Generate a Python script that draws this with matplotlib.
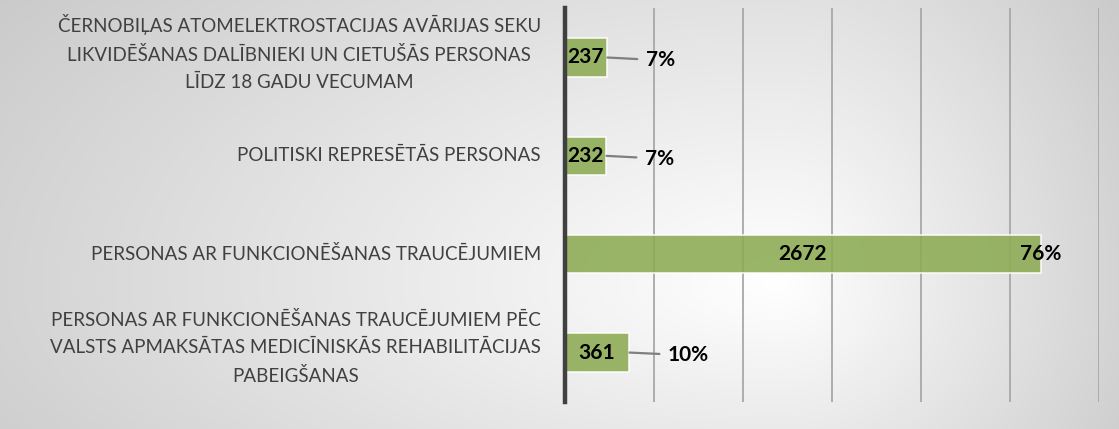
import numpy as np
import matplotlib
matplotlib.use("Agg")
import matplotlib.pyplot as plt

categories = [
    "ČERNOBIĻAS ATOMELEKTROSTACIJAS AVĀRIJAS SEKU\nLIKVIDĒŠANAS DALĪBNIEKI UN CIETUŠĀS PERSONAS\nLĪDZ 18 GADU VECUMAM",
    "POLITISKI REPRESĒTĀS PERSONAS",
    "PERSONAS AR FUNKCIONĒŠANAS TRAUCĒJUMIEM",
    "PERSONAS AR FUNKCIONĒŠANAS TRAUCĒJUMIEM PĒC\nVALSTS APMAKSĀTAS MEDICĪNISKĀS REHABILITĀCIJAS\nPABEIGŠANAS",
]
values = [237, 232, 2672, 361]
percents = ["7%", "7%", "76%", "10%"]
x_ticks = [0, 500, 1000, 1500, 2000, 2500, 3000]

plt.rcParams['font.family'] = ['Lato', 'DejaVu Sans']

W, H = 1119, 429
fig = plt.figure(figsize=(W / 100, H / 100), dpi=100)

# background radial gradient
bg = fig.add_axes([0, 0, 1, 1], zorder=-10)
yy, xx = np.mgrid[0:H, 0:W]
cx, cy = 780.0, 285.0
rx = np.where(xx < cx, 780.0, 340.0)
ry = np.where(yy < cy, 420.0, 300.0)
r = np.sqrt(((xx - cx) / rx) ** 2 + ((yy - cy) / ry) ** 2)
v = 1 - 0.17 * np.clip(r, 0, 1.25)
bg.imshow(np.dstack([v, v, v]), aspect='auto', extent=[0, W, H, 0])
bg.set_axis_off()

left = 564.5 / W
right = 1099.0 / W
top = 1 - 8.3 / H
bottom = 1 - 401.7 / H
ax = fig.add_axes([left, bottom, right - left, top - bottom])
ax.set_facecolor('none')

y = np.arange(len(values))
ax.barh(y, values, height=0.39, color='#8cab52', alpha=0.88,
        edgecolor=(1, 1, 1, 0.55), linewidth=1.2, zorder=3)

ax.set_xlim(0, 3000)
ax.set_ylim(len(values) - 0.5, -0.5)
ax.set_xticks(x_ticks)
ax.tick_params(axis='x', length=0, labelbottom=False)
ax.grid(axis='x', color='#a8a8a8', linewidth=1.3, zorder=1)
ax.set_axisbelow(True)
for s in ['top', 'right', 'bottom']:
    ax.spines[s].set_visible(False)
ax.spines['left'].set_color('#404040')
ax.spines['left'].set_linewidth(3.2)
ax.spines['left'].set_zorder(5)

ax.set_yticks(y)
ax.set_yticklabels([])
ax.tick_params(axis='y', length=0)
for i, cat in enumerate(categories):
    nlines = cat.count("\n") + 1
    dy = 3.5 if nlines > 1 else 0
    ax.annotate(cat, xy=(0, i), xytext=(-17, dy), textcoords='offset points',
                ha='right', va='center', multialignment='center',
                fontsize=13.5, color='#404040', linespacing=1.72,
                annotation_clip=False)

for i, (val, pct) in enumerate(zip(values, percents)):
    ax.text(val / 2, i, str(val), ha='center', va='center', fontsize=15,
            fontweight='bold', color='black', zorder=6)
    if val > 1500:
        ax.text(val, i, pct, ha='center', va='center', fontsize=15,
                fontweight='bold', color='black', zorder=6)
    else:
        ax.annotate(pct, xy=(val, i), xytext=(28, -2), textcoords='offset points',
                    ha='left', va='center', fontsize=15, fontweight='bold',
                    color='black', zorder=6,
                    arrowprops=dict(arrowstyle='-', color='#7f7f7f', lw=1.6,
                                    shrinkA=4, shrinkB=0.5))

fig.savefig('out.png', dpi=100)
